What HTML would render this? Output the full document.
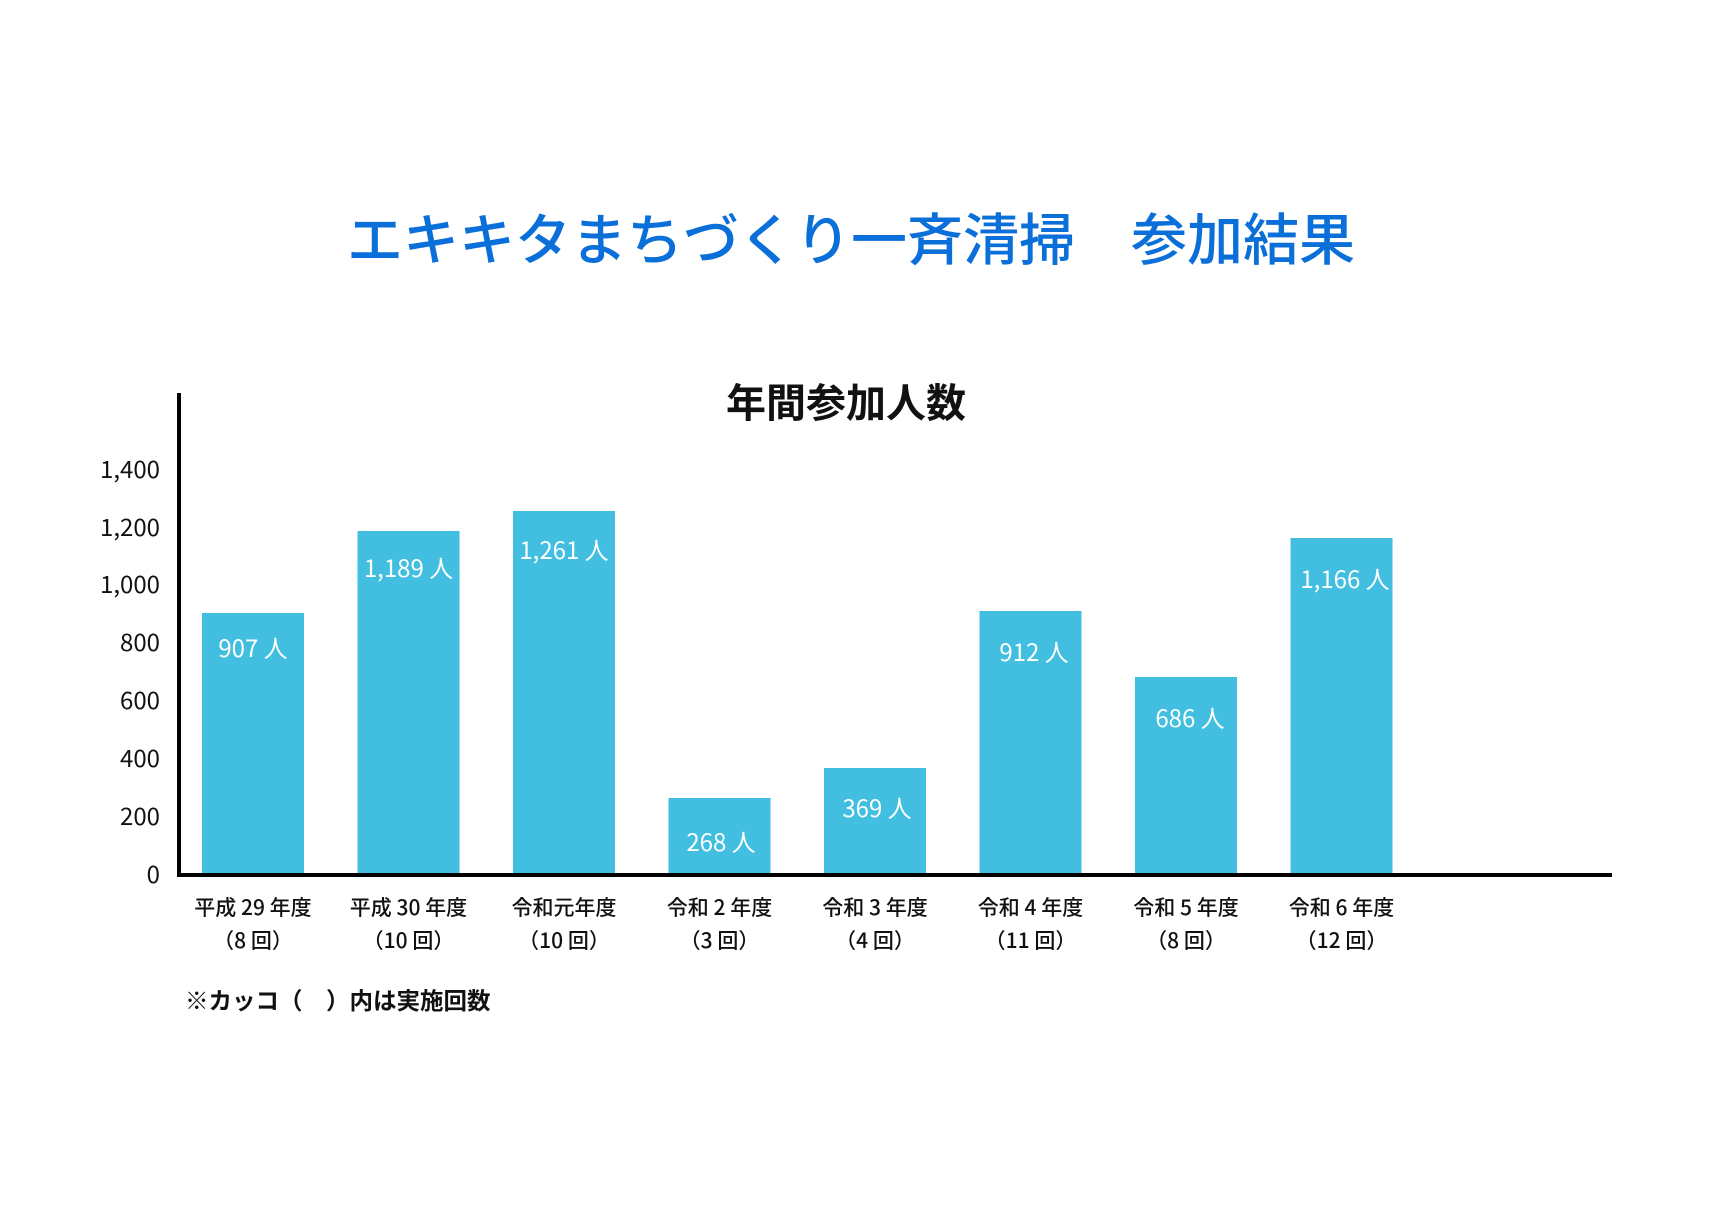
<!DOCTYPE html>
<html><head><meta charset="utf-8"><style>
html,body{margin:0;padding:0;background:#fff;}
body{width:1719px;height:1226px;position:relative;overflow:hidden;font-family:"Liberation Sans","Noto Sans CJK JP",sans-serif;}
.t{position:absolute;white-space:nowrap;}
</style></head><body>
<div class="t" style="left:347px;top:204px;font-size:56px;line-height:66px;color:#0a6fd8;font-family:'Noto Sans CJK JP',sans-serif;font-weight:500;">エキキタまちづくり一斉清掃　参加結果</div>
<svg width="1719" height="1226" style="position:absolute;left:0;top:0" font-family="'Noto Sans CJK JP', sans-serif">
<text x="846" y="417" font-size="40" font-weight="bold" text-anchor="middle" fill="#111">年間参加人数</text>
<g font-size="24" fill="#111" text-anchor="end">
<text x="160" y="883">0</text>
<text x="160" y="825">200</text>
<text x="160" y="767">400</text>
<text x="160" y="709">600</text>
<text x="160" y="651">800</text>
<text x="160" y="593">1,000</text>
<text x="160" y="536">1,200</text>
<text x="160" y="478">1,400</text>
</g>
<g fill="#42bfe0">
<rect x="202" y="613" width="102" height="262"/>
<rect x="357.5" y="531" width="102" height="344"/>
<rect x="513" y="511" width="102" height="364"/>
<rect x="668.5" y="798" width="102" height="77"/>
<rect x="824" y="768" width="102" height="107"/>
<rect x="979.5" y="611" width="102" height="264"/>
<rect x="1135" y="677" width="102" height="198"/>
<rect x="1290.5" y="538" width="102" height="337"/>
</g>
<g font-size="24" fill="#fff" text-anchor="middle">
<text x="253" y="657">907 人</text>
<text x="408.5" y="577">1,189 人</text>
<text x="564" y="559">1,261 人</text>
<text x="721" y="851">268 人</text>
<text x="877" y="817">369 人</text>
<text x="1034" y="661">912 人</text>
<text x="1190" y="727">686 人</text>
<text x="1345" y="588">1,166 人</text>
</g>
<path d="M179 393 V875 H1612" fill="none" stroke="#000" stroke-width="4"/>
<g font-size="21" font-weight="500" fill="#111" text-anchor="middle">
<text x="253" y="915">平成 29 年度</text><text x="253" y="948">（8 回）</text>
<text x="408.5" y="915">平成 30 年度</text><text x="408.5" y="948">（10 回）</text>
<text x="564" y="915">令和元年度</text><text x="564" y="948">（10 回）</text>
<text x="719.5" y="915">令和 2 年度</text><text x="719.5" y="948">（3 回）</text>
<text x="875" y="915">令和 3 年度</text><text x="875" y="948">（4 回）</text>
<text x="1030.5" y="915">令和 4 年度</text><text x="1030.5" y="948">（11 回）</text>
<text x="1186" y="915">令和 5 年度</text><text x="1186" y="948">（8 回）</text>
<text x="1341.5" y="915">令和 6 年度</text><text x="1341.5" y="948">（12 回）</text>
</g>
<text x="185" y="1009" font-size="23.5" font-weight="bold" fill="#111">※カッコ（　）内は実施回数</text>
</svg>
</body></html>
